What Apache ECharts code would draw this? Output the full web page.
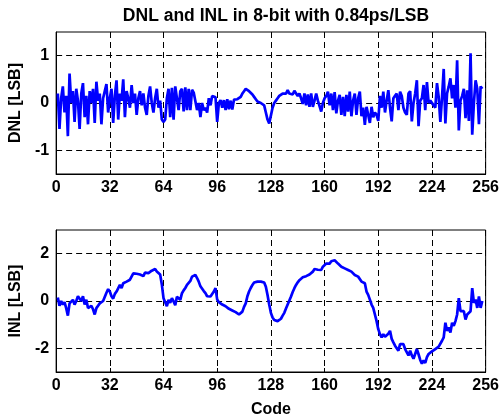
<!DOCTYPE html>
<html><head><meta charset="utf-8">
<script src="https://cdn.jsdelivr.net/npm/echarts@6/dist/echarts.min.js"></script>
<style>html,body{margin:0;padding:0;background:#fff}#c{width:502px;height:420px}</style>
</head><body><div id="c"></div>
<script>
const titleText = 'DNL and INL in 8-bit with 0.84ps/LSB';
const xTicks = [0, 32, 64, 96, 128, 160, 192, 224, 256];
const dnlTicks = [-1, 0, 1];
const inlTicks = [-2, 0, 2];
const firstCode = 1;
const dnl = [
 0.2,-0.55,0.1,0.35,-0.2,0.15,-0.7,0.62,0.0,0.25,-0.4,0.3,0.05,-0.55,0.2,0.42,
 -0.3,0.15,-0.45,0.25,0.0,0.3,-0.42,0.45,0.05,0.2,-0.45,0.1,0.25,0.4,-0.2,0.1,
 0.3,-0.42,0.15,0.48,-0.35,0.2,0.05,0.5,-0.3,0.25,0.1,-0.1,0.38,0.0,0.2,-0.25,
 0.1,0.25,-0.05,0.2,-0.1,-0.25,0.15,0.35,0.0,-0.2,0.1,0.3,-0.1,0.05,-0.35,-0.4,
 -0.35,0.1,0.3,-0.3,0.32,-0.35,0.35,0.38,-0.15,0.25,0.3,-0.18,0.33,-0.15,0.3,-0.15,
 0.28,0.22,0.2,-0.15,0.0,-0.3,0.0,-0.15,-0.1,-0.2,0.1,-0.05,0.15,0.17,0.12,-0.4,
 0.0,0.06,-0.1,0.06,-0.15,0.08,-0.13,0.05,-0.14,0.07,0.05,0.08,0.1,0.13,0.2,0.25,
 0.3,0.32,0.25,0.22,0.18,0.13,0.08,0.03,0.0,0.0,-0.02,-0.05,-0.2,-0.35,-0.43,-0.4,
 -0.1,0.0,0.05,0.1,0.15,0.13,0.2,0.22,0.2,0.27,0.2,0.24,0.18,0.26,0.25,0.15,
 0.2,0.1,-0.02,0.2,-0.05,0.18,-0.08,0.2,-0.08,0.05,0.2,0.05,0.02,-0.18,0.0,0.1,
 0.15,0.24,-0.05,0.2,-0.15,0.23,-0.22,0.05,0.17,-0.25,0.13,-0.28,0.17,-0.18,0.24,-0.28,
 0.05,0.2,-0.25,0.1,0.24,-0.28,-0.1,-0.46,-0.08,-0.1,-0.42,-0.08,-0.3,-0.2,-0.25,-0.38,
 0.15,-0.1,0.24,-0.2,0.05,0.27,-0.1,-0.39,0.1,0.15,0.2,-0.15,0.24,0.15,-0.1,-0.2,
 -0.25,0.2,0.25,-0.39,0.0,0.2,0.48,-0.49,0.05,0.1,0.38,-0.15,0.44,0.0,0.05,0.08,
 -0.05,-0.1,0.42,0.13,-0.4,0.12,0.72,-0.43,0.2,0.35,0.52,0.1,0.38,-0.1,0.9,-0.58,
 0.05,0.15,0.3,-0.32,0.27,-0.38,1.05,-0.67,0.0,0.48,0.3,-0.45,0.35,0.3
];
const inl = [
 0.15,-0.2,0.0,-0.15,-0.05,-0.3,-0.62,-0.1,-0.05,0.05,-0.15,0.0,0.2,0.27,0.0,0.2,
 -0.15,0.05,-0.3,-0.35,-0.2,-0.35,-0.57,-0.3,-0.2,-0.1,-0.15,0.0,0.05,0.35,0.5,0.4,
 0.2,0.1,0.3,0.4,0.45,0.68,0.55,0.75,0.68,0.82,0.75,0.9,0.97,1.17,1.22,1.15,
 1.22,1.12,1.15,1.05,1.2,1.12,1.18,1.2,1.28,1.32,1.35,1.25,1.3,1.12,0.7,0.12,
 -0.05,-0.22,0.05,-0.08,0.12,-0.02,-0.18,0.18,0.18,0.05,0.33,0.45,0.55,0.68,0.75,0.85,
 1.03,0.97,1.1,0.97,0.82,0.62,0.55,0.42,0.33,0.2,0.12,0.19,0.26,0.4,0.54,0.06,
 -0.05,-0.08,-0.15,-0.18,-0.22,-0.3,-0.33,-0.38,-0.4,-0.45,-0.47,-0.55,-0.57,-0.55,-0.45,-0.25,
 -0.1,0.2,0.4,0.55,0.68,0.78,0.82,0.82,0.82,0.82,0.82,0.78,0.6,0.25,-0.15,-0.5,
 -0.7,-0.8,-0.85,-0.85,-0.8,-0.75,-0.62,-0.5,-0.32,-0.15,0.02,0.19,0.38,0.54,0.68,0.79,
 0.88,0.96,1.0,1.07,1.05,1.1,1.12,1.2,1.24,1.35,1.38,1.32,1.38,1.31,1.45,1.51,
 1.58,1.65,1.58,1.68,1.7,1.72,1.76,1.58,1.62,1.45,1.52,1.38,1.45,1.31,1.38,1.24,
 1.3,1.1,1.17,1.03,0.96,0.82,0.75,0.75,0.4,0.26,0.06,-0.15,-0.29,-0.57,-0.85,-1.19,
 -1.4,-1.54,-1.4,-1.51,-1.47,-1.38,-1.26,-1.6,-1.75,-1.89,-1.96,-2.1,-1.82,-1.9,-1.82,-2.03,
 -2.1,-2.3,-2.1,-2.3,-2.44,-2.51,-2.03,-2.25,-2.49,-2.65,-2.51,-2.62,-2.37,-2.24,-2.17,-2.13,
 -2.1,-2.03,-1.96,-1.93,-1.89,-1.68,-1.54,-0.92,-1.26,-1.12,-1.33,-0.92,-1.05,-0.85,-0.57,0.12,
 -0.43,-0.5,-0.43,-0.78,-0.57,-0.64,-0.43,0.54,-0.08,0.06,-0.29,0.19,-0.29,0.0
];

const FONT = '"Liberation Sans", Arial, sans-serif';
const chart = echarts.init(document.getElementById('c'), null, {renderer: 'canvas'});
const lbl = {fontFamily: FONT, fontWeight: 'bold', fontSize: 16, color: '#000'};
const dash = {color: '#000', type: [6, 4], width: 1};

function xAx(gi, name) {
  return {
    gridIndex: gi, type: 'value', min: 0, max: 256, interval: 32,
    axisLine: {show: true, onZero: false, lineStyle: {color: '#000', width: 1}},
    axisTick: {show: true, inside: true, length: 4, lineStyle: {color: '#000'}},
    axisLabel: Object.assign({margin: 6}, lbl),
    splitLine: {show: true, lineStyle: dash},
    name: name, nameLocation: 'middle', nameGap: 30,
    nameTextStyle: Object.assign({}, lbl)
  };
}
function yAx(gi, lim, ticks, name) {
  return {
    gridIndex: gi, type: 'value', min: -lim, max: lim, interval: lim / 3,
    axisLine: {show: true, lineStyle: {color: '#000', width: 1}},
    axisTick: {show: true, inside: true, length: 4, customValues: ticks, lineStyle: {color: '#000'}},
    axisLabel: Object.assign({margin: 7, customValues: ticks}, lbl),
    splitLine: {show: false},
    name: name, nameLocation: 'middle', nameGap: 30,
    nameTextStyle: Object.assign({}, lbl)
  };
}
function gridLines(ticks) {
  return ticks.map(t => ({yAxis: t}));
}
const series = [
  {type: 'line', xAxisIndex: 0, yAxisIndex: 0, showSymbol: false, z: 3,
   data: dnl.map((v, i) => [firstCode + i, v]),
   lineStyle: {color: '#0000ff', width: 2.7}, itemStyle: {color: '#0000ff'},
   markLine: {silent: true, symbol: 'none', z: 1, label: {show: false},
     lineStyle: dash, data: gridLines(dnlTicks), animation: false}},
  {type: 'line', xAxisIndex: 1, yAxisIndex: 1, showSymbol: false, z: 3,
   data: inl.map((v, i) => [firstCode + i, v]),
   lineStyle: {color: '#0000ff', width: 2.7}, itemStyle: {color: '#0000ff'},
   markLine: {silent: true, symbol: 'none', z: 1, label: {show: false},
     lineStyle: dash, data: gridLines(inlTicks), animation: false}}
];
chart.setOption({
  animation: false,
  backgroundColor: '#fff',
  title: {text: titleText, left: 271, textAlign: 'center', top: 2,
    textStyle: {fontFamily: FONT, fontWeight: 'bold', fontSize: 17.5, color: '#000'}},
  grid: [
    {left: 56, top: 32, width: 431, height: 142, show: true, borderColor: '#000', borderWidth: 1, backgroundColor: 'transparent'},
    {left: 56, top: 230, width: 431, height: 142, show: true, borderColor: '#000', borderWidth: 1, backgroundColor: 'transparent'}
  ],
  xAxis: [xAx(0, ''), xAx(1, 'Code')],
  yAxis: [yAx(0, 1.5, dnlTicks, 'DNL [LSB]'), yAx(1, 3, inlTicks, 'INL [LSB]')],
  series: series
});
</script></body></html>
